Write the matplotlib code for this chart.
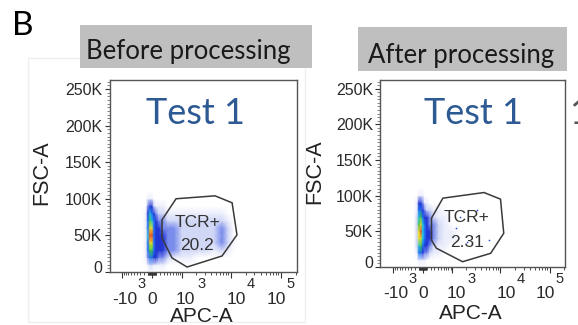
import numpy as np
import matplotlib
matplotlib.use("Agg")
import matplotlib.pyplot as plt
from matplotlib.colors import LinearSegmentedColormap, Normalize
from matplotlib.patches import Rectangle, Polygon
from matplotlib.transforms import blended_transform_factory, ScaledTranslation

# ---------------- data ----------------
panel_titles = ["Before processing", "After processing"]
sample_label = "Test 1"
gate_name = "TCR+"
gate_pct = ["20.2", "2.31"]

apc_nodes = [-230, -150, -100, -50, 0, 50, 100, 175, 280, 430, 640, 1000,
             1500, 2200, 3200, 4600, 6700, 8900, 11700]
fsc_nodes = [0, 10000, 20000, 30000, 40000, 50000, 60000, 70000, 80000,
             90000, 100000, 110000]

density_before = [
    [0, 0, 0, 0, 0, 0, 0, 0, 0, 0, 0, 0, 0, 0, 0, 0, 0, 0, 0],
    [0, 0, 1, 2, 2, 1, 1, 1, 1, 0, 0, 0, 0, 0, 0, 0, 0, 0, 0],
    [0, 1, 3, 5, 5, 4, 4, 3, 3, 2, 1, 1, 1, 0, 0, 0, 0, 0, 0],
    [0, 1, 5, 7, 7, 5, 4, 4, 4, 3, 3, 2, 2, 2, 2, 1, 2, 1, 0],
    [0, 1, 5, 8, 8, 5, 4, 4, 4, 3, 3, 2, 2, 2, 2, 2, 3, 2, 0],
    [0, 1, 6, 9, 9, 5, 4, 4, 4, 3, 3, 2, 2, 2, 2, 2, 3, 2, 0],
    [0, 1, 5, 8, 8, 5, 4, 4, 3, 3, 3, 2, 2, 2, 2, 2, 3, 2, 0],
    [0, 1, 5, 7, 6, 5, 4, 3, 3, 2, 2, 2, 2, 2, 2, 2, 2, 1, 0],
    [0, 1, 4, 6, 5, 4, 3, 2, 2, 1, 1, 1, 1, 1, 1, 1, 1, 0, 0],
    [0, 0, 3, 4, 4, 2, 1, 1, 1, 0, 0, 0, 0, 0, 0, 0, 0, 0, 0],
    [0, 0, 1, 1, 1, 0, 0, 0, 0, 0, 0, 0, 0, 0, 0, 0, 0, 0, 0],
    [0, 0, 0, 0, 0, 0, 0, 0, 0, 0, 0, 0, 0, 0, 0, 0, 0, 0, 0],
]

density_after = [
    [0, 0, 0, 0, 0, 0, 0, 0, 0, 0, 0, 0, 0, 0, 0, 0, 0, 0, 0],
    [0, 0, 1, 1, 1, 1, 0, 0, 0, 0, 0, 0, 0, 0, 0, 0, 0, 0, 0],
    [0, 1, 5, 5, 4, 3, 3, 2, 1, 1, 0, 0, 0, 0, 0, 0, 0, 0, 0],
    [0, 2, 6, 7, 5, 4, 4, 3, 2, 1, 1, 0, 0, 0, 0, 0, 0, 0, 0],
    [0, 2, 8, 8, 6, 5, 4, 4, 3, 2, 1, 1, 0, 0, 0, 0, 0, 0, 0],
    [0, 2, 8, 9, 6, 5, 4, 4, 3, 2, 1, 1, 0, 0, 0, 0, 0, 0, 0],
    [0, 2, 7, 8, 6, 5, 4, 3, 3, 2, 1, 0, 0, 0, 0, 0, 0, 0, 0],
    [0, 2, 6, 7, 5, 4, 4, 3, 2, 1, 1, 0, 0, 0, 0, 0, 0, 0, 0],
    [0, 1, 5, 5, 4, 3, 2, 2, 1, 1, 0, 0, 0, 0, 0, 0, 0, 0, 0],
    [0, 1, 4, 4, 3, 1, 1, 0, 0, 0, 0, 0, 0, 0, 0, 0, 0, 0, 0],
    [0, 0, 1, 1, 1, 0, 0, 0, 0, 0, 0, 0, 0, 0, 0, 0, 0, 0, 0],
    [0, 0, 0, 0, 0, 0, 0, 0, 0, 0, 0, 0, 0, 0, 0, 0, 0, 0, 0],
]

sparse_after_apc = [1500, 2100, 5900, 1200, 3300]
sparse_after_fsc = [70000, 35000, 38000, 55000, 80000]

gate_before_apc = [255, 722, 4860, 10700, 13400, 6730, 1290, 566, 255]
gate_before_fsc = [71200, 100000, 104000, 94500, 50700, 21900, 6800, 19200, 46600]
gate_after_apc = [220, 576, 4640, 10050, 11700, 6340, 1670, 361, 220]
gate_after_fsc = [68400, 96500, 104400, 95100, 47300, 19200, 7400, 26300, 37900]

y_ticks = [0, 50000, 100000, 150000, 200000, 250000]
y_tick_labels = ["0", "50K", "100K", "150K", "200K", "250K"]
x_major = [-1000, 0, 1000, 10000, 100000]
x_label_base = ["-10", "0", "10", "10", "10"]
x_label_exp = ["3", "", "3", "4", "5"]

# ---------------- style ----------------
W, H = 578, 325
ARIAL = "Liberation Sans"
CAL = "Lato"
fig = plt.figure(figsize=(W / 100, H / 100), dpi=100)
fig.patch.set_facecolor("white")


def fx(x):
    return x / W


def fy(y):
    return 1 - y / H


cmap = LinearSegmentedColormap.from_list("flowjo", [
    (0.0, "#ffffff"), (1 / 9, "#eceefc"), (2 / 9, "#d0d7f6"), (3 / 9, "#7a8cec"),
    (4 / 9, "#2235d2"), (5 / 9, "#1f6ef5"), (6 / 9, "#22c4e4"), (7 / 9, "#3cc24c"),
    (8 / 9, "#e8e22c"), (1.0, "#e8452b")])

# faint panel frame
fig.add_artist(Rectangle((fx(28), fy(322)), fx(305) - fx(28), fy(58) - fy(322),
                         transform=fig.transFigure, fill=False, ec="#efefef", lw=1))

# panel letter
fig.text(fx(12), fy(35), "B", family=CAL, fontsize=24, color="black", va="baseline")

# header boxes
boxes = [(80, 25, 312, 68, 188.5, 59), (358, 27, 567, 71, 461, 63)]
for (x0, y0, x1, y1, tx, ty), title in zip(boxes, panel_titles):
    fig.add_artist(Rectangle((fx(x0), fy(y1)), fx(x1) - fx(x0), fy(y0) - fy(y1),
                             transform=fig.transFigure, fc="#bfbfbf", ec="none"))
    fig.text(fx(tx), fy(ty), title, family=CAL, fontsize=18.5, color="#1a1a1a",
             ha="center", va="baseline")

minor_x = ([-m * 10 ** k for k in (1, 2) for m in range(1, 10)] +
           [m * 10 ** k for k in (1, 2) for m in range(1, 10)] +
           [m * 10 ** k for k in (3, 4) for m in range(2, 10)] + [200000])
minor_y = list(range(0, 262145, 5000))

panels = [
    dict(box=(110, 80, 297, 272), xlim=(-1815, 213000), dens=density_before,
         gate=(gate_before_apc, gate_before_fsc), pct=gate_pct[0],
         tcr=(197.5, 227), pctpos=(197, 250), test=(195, 124),
         xlab=(202, 322), ylab=(42, 173), ypad=2.2),
    dict(box=(380, 80, 565, 267), xlim=(-1950, 205000), dens=density_after,
         gate=(gate_after_apc, gate_after_fsc), pct=gate_pct[1],
         tcr=(466.5, 222), pctpos=(467, 247), test=(473, 124),
         xlab=(471, 319), ylab=(315, 172), ypad=1.5),
]

base_dx = [3, 0, 3.5, 5.5, -4.3]
exp_dx = [19.5, 0, 19, 20.5, 9.5]

for i, p in enumerate(panels):
    x0, y0, x1, y1 = p["box"]
    ax = fig.add_axes([fx(x0), fy(y1), fx(x1) - fx(x0), fy(y0) - fy(y1)])
    ax.set_xscale("asinh", linear_width=535)
    ax.set_xlim(*p["xlim"])
    ax.set_ylim(0, 262144)
    X, Y = np.meshgrid(apc_nodes, fsc_nodes)
    ax.pcolormesh(X, Y, np.array(p["dens"], dtype=float), cmap=cmap,
                  norm=Normalize(0, 9), shading="gouraud", zorder=1)
    if i == 1:
        ax.scatter(sparse_after_apc, sparse_after_fsc, s=1.5, color="#3a4fe0",
                   lw=0, zorder=2)
    gx, gy = p["gate"]
    ax.add_patch(Polygon(np.column_stack([gx, gy]), closed=True, fill=False,
                         ec="#3a3a3a", lw=1.1, zorder=3))
    for s in ax.spines.values():
        s.set_color("#555555")
        s.set_linewidth(1.0)
    ax.set_xticks(x_major)
    ax.set_xticks(minor_x, minor=True)
    ax.set_yticks(y_ticks)
    ax.set_yticklabels(y_tick_labels, family=ARIAL, fontsize=11.5, color="#2a2a2a")
    ax.set_yticks(minor_y, minor=True)
    ax.tick_params(axis="x", which="major", length=4.5, width=0.8, color="#333333",
                   labelbottom=False, direction="out")
    ax.tick_params(axis="x", which="minor", length=2.5, width=0.6, color="#333333",
                   labelbottom=False, direction="out")
    ax.tick_params(axis="y", which="major", length=3.6, width=0.8, color="#333333",
                   pad=p["ypad"])
    ax.tick_params(axis="y", which="minor", length=2.0, width=0.5, color="#555555")
    lab0 = ax.get_yticklabels()[0]
    lab0.set_transform(lab0.get_transform() + ScaledTranslation(0, 5 / 100, fig.dpi_scale_trans))

    bt = blended_transform_factory(ax.transData, ax.transAxes)
    for v, b, e, dxb, dxe in zip(x_major, x_label_base, x_label_exp, base_dx, exp_dx):
        tb = bt + ScaledTranslation(dxb / 100, -31.5 / 100, fig.dpi_scale_trans)
        ax.text(v, 0, b, transform=tb, ha="center", va="baseline", family=ARIAL,
                fontsize=12.5, color="#2a2a2a", clip_on=False)
        if e:
            te = bt + ScaledTranslation(dxe / 100, -16 / 100, fig.dpi_scale_trans)
            ax.text(v, 0, e, transform=te, ha="center", va="baseline", family=ARIAL,
                    fontsize=10.5, color="#2a2a2a", clip_on=False)

    fig.text(fx(p["test"][0]), fy(p["test"][1]), sample_label, family=CAL,
             fontsize=26, color="#2E5A94", ha="center", va="baseline")
    fig.text(fx(p["tcr"][0]), fy(p["tcr"][1]), gate_name, family=ARIAL,
             fontsize=12.5, color="#333333", ha="center", va="baseline")
    fig.text(fx(p["pctpos"][0]), fy(p["pctpos"][1]), p["pct"], family=ARIAL,
             fontsize=12.5, color="#333333", ha="center", va="baseline")
    fig.text(fx(p["xlab"][0]), fy(p["xlab"][1]), "APC-A", family=ARIAL,
             fontsize=15, color="#222222", ha="center", va="baseline")
    fig.text(fx(p["ylab"][0]), fy(p["ylab"][1]), "FSC-A", family=ARIAL,
             fontsize=15.5, color="#222222", ha="center", va="center",
             rotation=90)

# partial label of the next panel at the right edge
fig.text(fx(569), fy(124), "1", family=CAL, fontsize=26, color="#555555",
         ha="left", va="baseline")

fig.savefig("out.png", dpi=100)
